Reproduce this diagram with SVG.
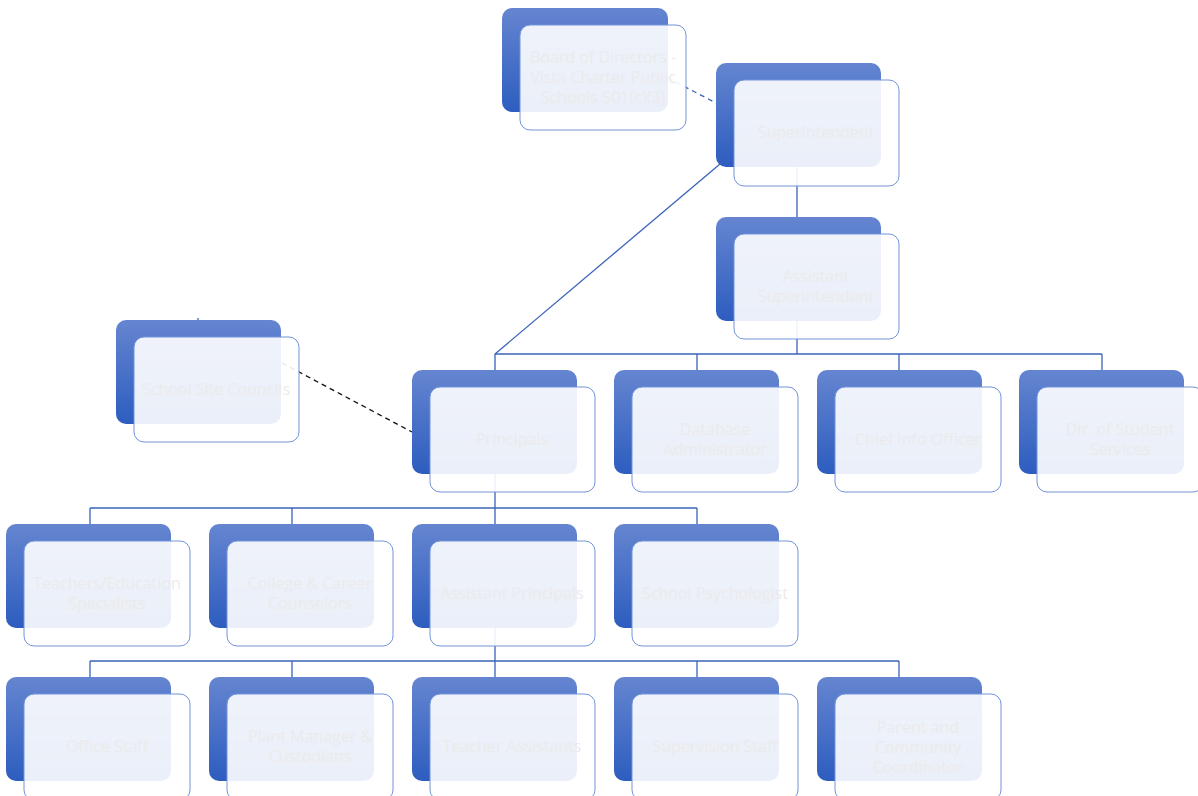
<svg xmlns="http://www.w3.org/2000/svg" width="1198" height="796" viewBox="0 0 1198 796">
<defs>
<linearGradient id="g" x1="0" y1="0" x2="0" y2="1">
<stop offset="0" stop-color="#6585d0"/>
<stop offset="1" stop-color="#2d5dbf"/>
</linearGradient>
<style>
.b{fill:url(#g)}
.f{fill:#ffffff;fill-opacity:0.9;stroke:#7294da;stroke-width:1}
.t{font-family:"Open Sans","Liberation Sans",Arial,sans-serif;font-size:16px;fill:#ebebeb;text-anchor:middle}
.c{fill:none;stroke:#3a63b9;stroke-width:1.3}
</style>
</defs>
<rect width="1198" height="796" fill="#ffffff"/>
<g id="connectors">
<line class="c" x1="797" y1="167" x2="797" y2="217"/>
<line class="c" x1="720" y1="164" x2="495" y2="354"/>
<polyline class="c" points="797,321 797,354"/>
<line class="c" x1="495" y1="354" x2="1102" y2="354"/>
<line class="c" x1="495" y1="354" x2="495" y2="370"/>
<line class="c" x1="697" y1="354" x2="697" y2="370"/>
<line class="c" x1="899" y1="354" x2="899" y2="370"/>
<line class="c" x1="1102" y1="354" x2="1102" y2="370"/>
<line class="c" x1="495" y1="474" x2="495" y2="508"/>
<line class="c" x1="90" y1="508" x2="697" y2="508"/>
<line class="c" x1="90" y1="508" x2="90" y2="524"/>
<line class="c" x1="292" y1="508" x2="292" y2="524"/>
<line class="c" x1="495" y1="508" x2="495" y2="524"/>
<line class="c" x1="697" y1="508" x2="697" y2="524"/>
<line class="c" x1="495" y1="628" x2="495" y2="661"/>
<line class="c" x1="90" y1="661" x2="899" y2="661"/>
<line class="c" x1="90" y1="661" x2="90" y2="677"/>
<line class="c" x1="292" y1="661" x2="292" y2="677"/>
<line class="c" x1="495" y1="661" x2="495" y2="677"/>
<line class="c" x1="697" y1="661" x2="697" y2="677"/>
<line class="c" x1="899" y1="661" x2="899" y2="677"/>
<line class="c" x1="198" y1="318" x2="198" y2="321"/>
<line x1="668" y1="78" x2="716" y2="103" stroke="#3a63b9" stroke-width="1.3" stroke-dasharray="5,4"/>
<line x1="282" y1="363" x2="412" y2="432" stroke="#111111" stroke-width="1.3" stroke-dasharray="5,4"/>
</g>
<g id="board"><rect class="b" x="502" y="8" width="166" height="104" rx="10"/><rect class="f" x="520" y="25" width="166" height="105" rx="10"/><text class="t" x="603" y="63">Board of Directors -</text><text class="t" x="603" y="83">Vista Charter Public</text><text class="t" x="603" y="103">Schools 501(c)(3)</text></g>
<g id="superintendent"><rect class="b" x="716" y="63" width="165" height="104" rx="10"/><rect class="f" x="734" y="80" width="165" height="106" rx="10"/><text class="t" x="816" y="138">Superintendent</text></g>
<g id="asst-super"><rect class="b" x="716" y="217" width="165" height="104" rx="10"/><rect class="f" x="734" y="234" width="165" height="105" rx="10"/><text class="t" x="816" y="282">Assistant</text><text class="t" x="816" y="302">Superintendent</text></g>
<g id="site-councils"><rect class="b" x="116" y="320" width="165" height="104" rx="10"/><rect class="f" x="134" y="337" width="165" height="105" rx="10"/><text class="t" x="216" y="395">School Site Councils</text></g>
<g id="principals"><rect class="b" x="412" y="370" width="165" height="104" rx="10"/><rect class="f" x="430" y="387" width="165" height="105" rx="10"/><text class="t" x="512" y="445">Principals</text></g>
<g id="database"><rect class="b" x="614" y="370" width="165" height="104" rx="10"/><rect class="f" x="632" y="387" width="166" height="105" rx="10"/><text class="t" x="715" y="435">Database</text><text class="t" x="715" y="455">Administrator</text></g>
<g id="cio"><rect class="b" x="817" y="370" width="165" height="104" rx="10"/><rect class="f" x="835" y="387" width="166" height="105" rx="10"/><text class="t" x="918" y="445">Chief Info Officer</text></g>
<g id="student-services"><rect class="b" x="1019" y="370" width="165" height="104" rx="10"/><rect class="f" x="1037" y="387" width="166" height="105" rx="10"/><text class="t" x="1120" y="435">Dir. of Student</text><text class="t" x="1120" y="455">Services</text></g>
<g id="teachers"><rect class="b" x="6" y="524" width="165" height="104" rx="10"/><rect class="f" x="24" y="541" width="166" height="105" rx="10"/><text class="t" x="107" y="589">Teachers/Education</text><text class="t" x="107" y="609">Specialists</text></g>
<g id="counselors"><rect class="b" x="209" y="524" width="165" height="104" rx="10"/><rect class="f" x="227" y="541" width="166" height="105" rx="10"/><text class="t" x="310" y="589">College &amp; Career</text><text class="t" x="310" y="609">Counselors</text></g>
<g id="asst-principals"><rect class="b" x="412" y="524" width="165" height="104" rx="10"/><rect class="f" x="430" y="541" width="165" height="105" rx="10"/><text class="t" x="512" y="599">Assistant Principals</text></g>
<g id="psychologist"><rect class="b" x="614" y="524" width="165" height="104" rx="10"/><rect class="f" x="632" y="541" width="166" height="105" rx="10"/><text class="t" x="715" y="599">School Psychologist</text></g>
<g id="office-staff"><rect class="b" x="6" y="677" width="165" height="104" rx="10"/><rect class="f" x="24" y="694" width="166" height="106" rx="10"/><text class="t" x="107" y="752">Office Staff</text></g>
<g id="plant-manager"><rect class="b" x="209" y="677" width="165" height="104" rx="10"/><rect class="f" x="227" y="694" width="166" height="106" rx="10"/><text class="t" x="310" y="742">Plant Manager &amp;</text><text class="t" x="310" y="762">Custodians</text></g>
<g id="teacher-assistants"><rect class="b" x="412" y="677" width="165" height="104" rx="10"/><rect class="f" x="430" y="694" width="165" height="106" rx="10"/><text class="t" x="512" y="752">Teacher Assistants</text></g>
<g id="supervision"><rect class="b" x="614" y="677" width="165" height="104" rx="10"/><rect class="f" x="632" y="694" width="166" height="106" rx="10"/><text class="t" x="715" y="752">Supervision Staff</text></g>
<g id="parent-coordinator"><rect class="b" x="817" y="677" width="165" height="104" rx="10"/><rect class="f" x="835" y="694" width="166" height="106" rx="10"/><text class="t" x="918" y="733">Parent and</text><text class="t" x="918" y="753">Community</text><text class="t" x="918" y="773">Coordinator</text></g>
</svg>
